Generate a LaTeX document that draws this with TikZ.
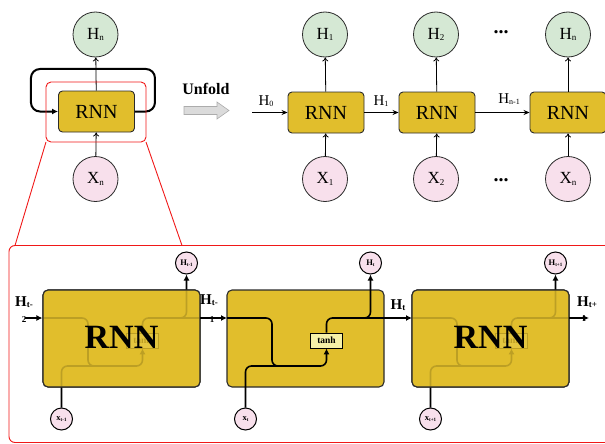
\documentclass[tikz,border=0pt]{standalone}
\usepackage{fontspec}
\setmainfont{Liberation Serif}
\usetikzlibrary{arrows.meta}

\definecolor{gold}{HTML}{E1BE2C}
\definecolor{hgreen}{HTML}{D5E8D4}
\definecolor{xpink}{HTML}{F8E0EC}
\definecolor{tanhfill}{HTML}{F7F1A8}
\definecolor{edge}{HTML}{2B2B2B}
\definecolor{rred}{HTML}{F01818}

\newcommand\lsub[2]{\raisebox{-0.15ex}{\fontsize{#1}{#1}\selectfont #2}}

% wires of one cell: #1 prefix, #2 left x, #3 H label, #4 x label
\newcommand\cellwires[4]{%
  \node[tanhbox] (#1t) at (#2+99.5,340.5) {tanh};
  \node[smallc] (#1h) at (#2+143.5,263) {H\lsub{5}{#3}};
  \node[smallc] (#1x) at (#2+18.5,419) {x\lsub{5}{#4}};
  \coordinate (#1in) at (#2,318);
  \coordinate (#1out) at (#2+157,318);
  \draw[wire,-{Latex[length=6pt,width=6pt]}] (#1in) -- (#2+45,318) -- (#2+45,366) -- (#2+99.5,366) -- (#1t.south);
  \draw[wire] (#1x.north) -- (#2+18.5,366) -- (#2+70,366);
  \draw[wire] (#1t.north) -- (#2+99.5,318) -- (#1out);
  \draw[wire,-{Latex[length=6pt,width=6pt]}] (#2+125,318) -- (#2+143.5,318) -- (#1h.south);
}

\begin{document}
\begin{tikzpicture}[x=1pt,y=-1pt,
  topbox/.style={draw=edge, fill=gold, rounded corners=4pt, line width=0.9pt,
    minimum width=76pt, minimum height=41pt, inner sep=0pt, font=\fontsize{20}{20}\selectfont},
  hcirc/.style={circle, draw=edge, fill=hgreen, minimum size=45pt, inner sep=0pt,
    line width=0.8pt, font=\fontsize{17}{17}\selectfont},
  xcirc/.style={hcirc, fill=xpink},
  tarr/.style={-{To[length=4pt,width=6pt]}, line width=0.8pt},
  harr/.style={-{Stealth[length=6pt,width=5pt]}, line width=0.8pt},
  lbl/.style={font=\fontsize{15}{15}\selectfont, inner sep=0pt},
  blbl/.style={font=\bfseries\fontsize{15}{15}\selectfont, inner sep=0pt},
  bigbox/.style={draw=edge, fill=gold, rounded corners=5pt, line width=1.1pt,
    minimum width=157pt, minimum height=97pt, inner sep=0pt},
  bigtext/.style={font=\bfseries\fontsize{34}{34}\selectfont, inner sep=0pt},
  wire/.style={line width=1.6pt, rounded corners=6pt},
  tanhbox/.style={draw=black, fill=tanhfill, line width=0.8pt, minimum width=32pt,
    minimum height=15pt, inner sep=0pt, font=\bfseries\fontsize{9.5}{9.5}\selectfont},
  smallc/.style={circle, draw=black, fill=xpink, minimum size=22pt, inner sep=0pt,
    line width=1pt, font=\bfseries\fontsize{8.5}{8.5}\selectfont},
  sarr/.style={line width=1.6pt, -{Latex[length=6pt,width=6pt]}},
  redl/.style={draw=rred, line width=0.9pt},
  dots/.style={font=\bfseries\fontsize{20}{20}\selectfont, inner sep=0pt}
]
\useasboundingbox (0,0) rectangle (605,444);
\clip (0,0) rectangle (605,444);

% ---------------- top left ----------------
\node[topbox] (rnn0) at (96.5,111.5) {RNN};
\node[hcirc] (hn0) at (95.5,34.5) {H\lsub{9}{n}};
\node[xcirc] (xn0) at (95.5,179) {X\lsub{9}{n}};
\draw[tarr] (rnn0) -- (hn0);
\draw[tarr] (xn0) -- (rnn0);
\draw[line width=2pt, rounded corners=9pt, -{Latex[length=6pt,width=6pt]}]
  (rnn0.east) -- ++(20,0) -- ++(0,-42.5) -- ++(-124,0) -- ++(0,42.5) -- (rnn0.west);
\draw[redl, rounded corners=5pt] (46,82) rectangle (146,142);
\coordinate (rl) at (46,142);
\coordinate (rr) at (146,142);
\coordinate (bl) at (15,245.5);
\coordinate (br) at (182,245.5);
\draw[redl] (rl) -- (bl);
\draw[redl] (rr) -- (br);

% Unfold
\node[font=\bfseries\fontsize{16}{16}\selectfont] (unf) at (206,89) {Unfold};
\draw[fill=gray!28, draw=gray!65, line width=0.6pt]
  (184,106.5) -- (217,106.5) -- (217,102) -- (229,110.5) -- (217,119) -- (217,114.5) -- (184,114.5) -- cycle;

% ---------------- top right ----------------
\node[topbox] (rnn1) at (326,112.5) {RNN};
\node[topbox] (rnn2) at (437,112.5) {RNN};
\node[topbox] (rnn3) at (568,112.5) {RNN};
\node[hcirc] (h1) at (325,34.5) {H\lsub{9}{1}};
\node[hcirc] (h2) at (436,34.5) {H\lsub{9}{2}};
\node[hcirc] (h3) at (568,34.5) {H\lsub{9}{n}};
\node[xcirc] (x1) at (325,179) {X\lsub{9}{1}};
\node[xcirc] (x2) at (436,179) {X\lsub{9}{2}};
\node[xcirc] (x3) at (568,179) {X\lsub{9}{n}};
\foreach \i in {1,2,3}{
  \draw[tarr] (rnn\i) -- (h\i);
  \draw[tarr] (x\i) -- (rnn\i);
}
\coordinate (h0in) at (252,112.5);
\draw[harr] (h0in) -- (rnn1.west);
\draw[harr] (rnn1.east) -- (rnn2.west);
\draw[harr] (rnn2.east) -- (rnn3.west);
\node[lbl] (lh0) at (266,101) {H\lsub{8}{0}};
\node[lbl] (lh1) at (381,101) {H\lsub{8}{1}};
\node[lbl] (lhn) at (509,99) {H\lsub{8}{n-1}};
\node[dots] (dt) at (501,32) {...};
\node[dots] (db) at (501,180) {...};

% ---------------- bottom ----------------
\draw[redl, rounded corners=6pt] (9,245.5) rectangle (640,442.5);

% cell 2 (clear)
\node[bigbox] (b2) at (305.5,338.5) {};
\cellwires{c2}{227}{t}{t}

% cell 1 (faded interior)
\node[bigbox] (b1bg) at (121.5,338.5) {};
\cellwires{c1}{43}{t-1}{t-1}
\node[bigbox, fill opacity=0.84] (b1) at (121.5,338.5) {};
\node[bigtext] (r1) at (121.5,337) {RNN};

% cell 3 (faded interior)
\node[bigbox] (b3bg) at (490.5,338.5) {};
\cellwires{c3}{412}{t+1}{t+1}
\node[bigbox, fill opacity=0.84] (b3) at (490.5,338.5) {};
\node[bigtext] (r3) at (490.5,337) {RNN};

% connectors between cells
\coordinate (startin) at (25,318);
\coordinate (endout) at (589,318);
\draw[sarr] (startin) -- (b1.west |- startin);
\draw[sarr] (c1out) -- (c2in);
\draw[sarr] (c2out) -- (c3in);
\draw[sarr] (c3out) -- (endout);

% labels
\node[blbl] (la) at (24,302) {H\lsub{9}{t-}};
\node[font=\bfseries\fontsize{9}{9}\selectfont, inner sep=0pt] (la2) at (24,319.5) {2};
\node[blbl] (lb) at (209,300) {H\lsub{9}{t-}};
\node[font=\bfseries\fontsize{9}{9}\selectfont, inner sep=0pt] (lb2) at (212,319.5) {1};
\node[blbl] (lc) at (398,305) {H\lsub{9}{t}};
\node[blbl] (ld) at (587,302) {H\lsub{9}{t+}};
\node[font=\bfseries\fontsize{9}{9}\selectfont, inner sep=0pt] (ld2) at (584,318.5) {1};
\end{tikzpicture}
\end{document}
